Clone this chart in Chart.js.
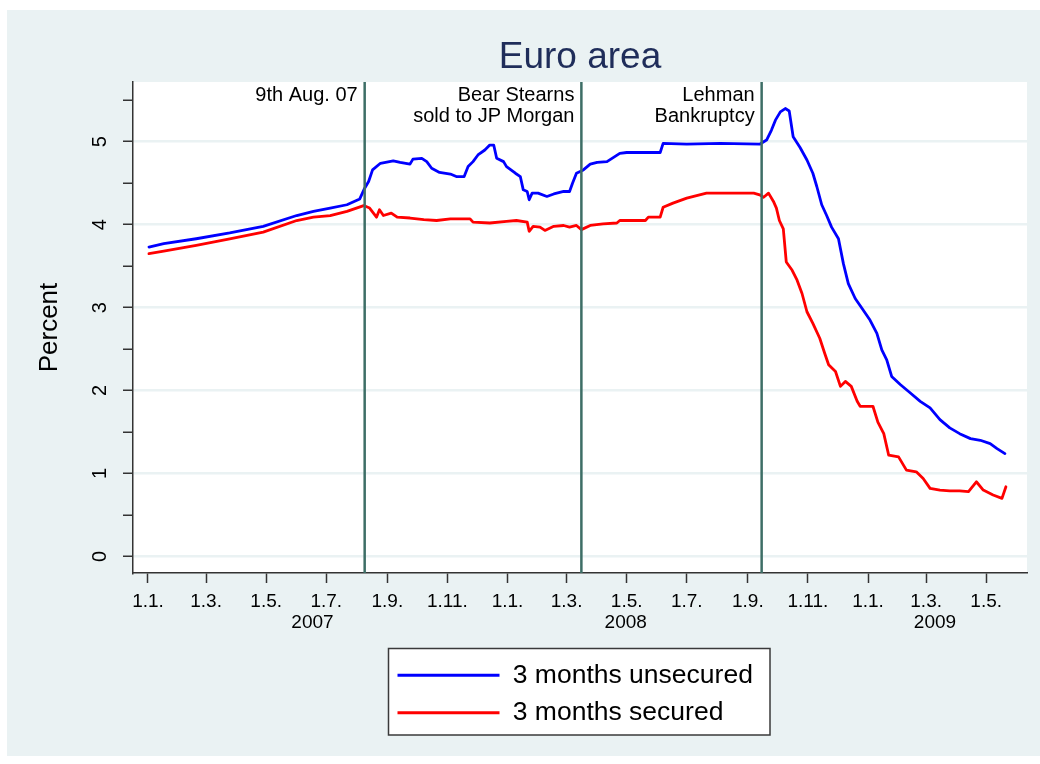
<!DOCTYPE html>
<html>
<head>
<meta charset="utf-8">
<title>Euro area</title>
<script src="https://cdn.jsdelivr.net/npm/chart.js@4.4.1/dist/chart.umd.min.js"></script>
<style>
  html, body { margin: 0; padding: 0; background: #ffffff; }
  canvas { display: block; }
</style>
</head>
<body>
<canvas id="myChart" width="1040" height="764"></canvas>
<script>
// days counted from 1 Jan 2007
const unsecuredDays = [1, 16, 49, 83, 117, 151, 168, 185, 202, 215, 220, 224, 228, 236, 249, 256, 266, 269, 278, 283,
  288, 296, 307, 313, 321, 325, 330, 335, 342, 347, 351, 354, 361, 364, 373, 378, 381, 385, 387, 390,
  396, 405, 412, 422, 428, 431, 435, 442, 449, 456, 466, 479, 486, 500, 520, 523, 547, 581, 621, 628,
  633, 637, 642, 647, 651, 655, 662, 669, 675, 679, 684, 689, 694, 701, 706, 711, 718, 725, 733, 740,
  745, 750, 755, 764, 774, 784, 794, 804, 814, 824, 835, 845, 855, 862, 870]
const unsecuredRates = [3.73, 3.77, 3.83, 3.90, 3.98, 4.11, 4.16, 4.20, 4.24, 4.31, 4.44, 4.52, 4.66, 4.74, 4.77, 4.75, 4.73, 4.79, 4.80, 4.76,
  4.68, 4.63, 4.61, 4.58, 4.58, 4.70, 4.76, 4.84, 4.90, 4.96, 4.96, 4.80, 4.76, 4.70, 4.62, 4.58, 4.42, 4.40, 4.30, 4.38,
  4.38, 4.34, 4.37, 4.40, 4.40, 4.50, 4.62, 4.66, 4.73, 4.75, 4.76, 4.86, 4.87, 4.87, 4.87, 4.98, 4.97, 4.98, 4.97, 5.02,
  5.14, 5.26, 5.36, 5.40, 5.37, 5.06, 4.93, 4.78, 4.62, 4.46, 4.24, 4.11, 3.97, 3.83, 3.53, 3.29, 3.11, 2.99, 2.85, 2.69,
  2.49, 2.37, 2.17, 2.07, 1.97, 1.87, 1.79, 1.65, 1.55, 1.48, 1.42, 1.40, 1.36, 1.30, 1.24]

const securedDays = [1, 16, 49, 83, 117, 151, 168, 185, 202, 219, 225, 232, 235, 239, 247, 253, 266, 280, 293, 307,
  327, 330, 347, 364, 374, 385, 387, 391, 398, 403, 412, 422, 428, 435, 440, 449, 462, 476, 479, 505,
  508, 520, 523, 533, 547, 567, 581, 615, 621, 625, 630, 635, 638, 641, 645, 648, 654, 659, 664, 669,
  675, 682, 687, 691, 698, 703, 708, 714, 720, 723, 736, 741, 747, 752, 762, 770, 780, 787, 794, 804,
  814, 824, 833, 841, 848, 858, 867, 871]
const securedRates = [3.65, 3.68, 3.75, 3.83, 3.91, 4.05, 4.09, 4.11, 4.16, 4.23, 4.20, 4.09, 4.18, 4.11, 4.14, 4.09, 4.08, 4.06, 4.05, 4.07,
  4.07, 4.03, 4.02, 4.04, 4.05, 4.03, 3.92, 3.98, 3.97, 3.93, 3.98, 3.99, 3.97, 3.99, 3.94, 3.99, 4.01, 4.02, 4.05, 4.05,
  4.09, 4.09, 4.21, 4.26, 4.32, 4.38, 4.38, 4.38, 4.36, 4.33, 4.38, 4.28, 4.20, 4.05, 3.95, 3.55, 3.45, 3.33, 3.17, 2.95,
  2.81, 2.63, 2.45, 2.31, 2.23, 2.05, 2.11, 2.05, 1.87, 1.81, 1.81, 1.62, 1.48, 1.22, 1.20, 1.04, 1.02, 0.94, 0.82, 0.80,
  0.79, 0.79, 0.78, 0.90, 0.80, 0.74, 0.70, 0.84]

const seriesNames = ["3 months unsecured", "3 months secured"]

const tickDays = [0, 59, 120, 181, 243, 304, 365, 425, 486, 547, 609, 670, 731, 790, 851]
const tickLabels = ["1.1.", "1.3.", "1.5.", "1.7.", "1.9.", "1.11.", "1.1.", "1.3.", "1.5.", "1.7.", "1.9.", "1.11.", "1.1.", "1.3.", "1.5."]
const yearDays = [167, 485, 799]
const yearLabels = ["2007", "2008", "2009"]
const yTicks = [0, 0.5, 1, 1.5, 2, 2.5, 3, 3.5, 4, 4.5, 5, 5.5]

const eventDays = [220, 440, 623]
const eventLabels = [["9th Aug. 07"], ["Bear Stearns", "sold to JP Morgan"], ["Lehman", "Bankruptcy"]]

const yMin = -0.2
const yMax = 5.72
const xMin = -15.2
const xMax = 892.4

const FONT = "'Liberation Sans', Arial, Helvetica, sans-serif"
const BG = "#EAF2F3"
const EVENT_COLOR = "#3d6e66"

function points(days, vals) {
    return days.map(function (d, i) { return { x: d, y: vals[i] } })
}

let datasets = []
eventDays.forEach(function (d) {
    datasets.push({
        data: [{ x: d, y: yMin }, { x: d, y: yMax }],
        borderColor: EVENT_COLOR,
        borderWidth: 2.5,
        pointRadius: 0,
        order: 0
    })
})
datasets.push({
    label: seriesNames[0],
    data: points(unsecuredDays, unsecuredRates),
    borderColor: "#0000ff",
    borderWidth: 2.8,
    pointRadius: 0,
    order: 1
})
datasets.push({
    label: seriesNames[1],
    data: points(securedDays, securedRates),
    borderColor: "#ff0000",
    borderWidth: 2.8,
    pointRadius: 0,
    order: 2
})

const backgroundPlugin = {
    id: "stataLook",
    afterLayout(chart) {
        let lg = chart.legend
        lg.left = 386.5
        lg.top = 651
        lg.right = 770
        lg.bottom = 764
        lg.width = lg.right - lg.left
        lg.height = lg.bottom - lg.top
    },
    beforeDraw(chart) {
        let ctx = chart.ctx
        let ca = chart.chartArea
        ctx.save()
        ctx.fillStyle = "#ffffff"
        ctx.fillRect(0, 0, chart.width, chart.height)
        ctx.fillStyle = BG
        ctx.fillRect(7, 10, chart.width - 7, chart.height - 18)
        ctx.fillStyle = "#ffffff"
        ctx.fillRect(ca.left, ca.top, ca.right - ca.left, ca.bottom - ca.top)
        // legend frame
        ctx.fillRect(388.5, 648.5, 381.5, 86.5)
        ctx.strokeStyle = "#3a3a3a"
        ctx.lineWidth = 1.5
        ctx.strokeRect(388.5, 648.5, 381.5, 86.5)
        ctx.restore()
    },
    afterDatasetsDraw(chart) {
        let ctx = chart.ctx
        let xs = chart.scales.x
        ctx.save()
        ctx.font = "20px " + FONT
        ctx.fillStyle = "#000000"
        ctx.textAlign = "right"
        ctx.textBaseline = "alphabetic"
        eventDays.forEach(function (d, i) {
            let px = xs.getPixelForValue(d) - 7
            eventLabels[i].forEach(function (line, j) {
                ctx.fillText(line, px, 100.5 + j * 21)
            })
        })
        ctx.restore()
    }
}

new Chart(document.getElementById("myChart").getContext("2d"), {
    type: "line",
    data: { datasets: datasets },
    plugins: [backgroundPlugin],
    options: {
        responsive: false,
        animation: false,
        events: [],
        layout: { padding: { top: 0, left: 0, right: 13, bottom: 125 } },
        elements: { line: { tension: 0, borderJoinStyle: "round", borderCapStyle: "round" } },
        plugins: {
            tooltip: { enabled: false },
            title: {
                display: true,
                text: "Euro area",
                fullSize: false,
                color: "#1f2d5a",
                font: { family: FONT, size: 37, weight: "normal" },
                padding: { top: 35.4, bottom: 2.2 }
            },
            legend: {
                display: true,
                position: "chartArea",
                align: "start",
                labels: {
                    color: "#000000",
                    font: { family: FONT, size: 26.5 },
                    boxWidth: 102,
                    boxHeight: 3,
                    padding: 11,
                    generateLabels: function () {
                        return [
                            { text: seriesNames[0], fillStyle: "#0000ff", strokeStyle: "#0000ff", lineWidth: 0, hidden: false, datasetIndex: 3 },
                            { text: seriesNames[1], fillStyle: "#ff0000", strokeStyle: "#ff0000", lineWidth: 0, hidden: false, datasetIndex: 4 }
                        ]
                    }
                }
            }
        },
        scales: {
            x: {
                type: "linear",
                position: "bottom",
                min: xMin,
                max: xMax,
                weight: 0,
                afterBuildTicks: function (s) { s.ticks = tickDays.map(function (v) { return { value: v } }) },
                afterFit: function (s) { s.height = 36 },
                grid: { drawOnChartArea: false, tickLength: 10, tickColor: "#333333", tickWidth: 1.5 },
                border: { display: true, color: "#333333", width: 1.5 },
                ticks: {
                    autoSkip: false,
                    maxRotation: 0,
                    padding: 7,
                    color: "#000000",
                    font: { family: FONT, size: 19 },
                    callback: function (v) {
                        let k = tickDays.indexOf(v)
                        return k >= 0 ? tickLabels[k] : ""
                    }
                }
            },
            x2: {
                type: "linear",
                position: "bottom",
                min: xMin,
                max: xMax,
                weight: 1,
                afterBuildTicks: function (s) { s.ticks = yearDays.map(function (v) { return { value: v } }) },
                afterFit: function (s) { s.height = 30 },
                grid: { display: false, drawTicks: false },
                border: { display: false },
                ticks: {
                    autoSkip: false,
                    maxRotation: 0,
                    padding: 2,
                    color: "#000000",
                    font: { family: FONT, size: 19 },
                    callback: function (v) {
                        let k = yearDays.indexOf(v)
                        return k >= 0 ? yearLabels[k] : ""
                    }
                }
            },
            y: {
                type: "linear",
                position: "left",
                min: yMin,
                max: yMax,
                afterBuildTicks: function (s) { s.ticks = yTicks.map(function (v) { return { value: v } }) },
                afterFit: function (s) { s.width = 133 },
                grid: {
                    color: function (c) { return (c.tick && Number.isInteger(c.tick.value)) ? BG : "rgba(0,0,0,0)" },
                    lineWidth: 2.5,
                    tickLength: 10,
                    tickColor: "#333333",
                    tickWidth: 1.5
                },
                border: { display: true, color: "#333333", width: 1.5 },
                title: {
                    display: true,
                    text: "Percent",
                    color: "#000000",
                    font: { family: FONT, size: 26 },
                    padding: { top: 34.4, bottom: 0 }
                },
                ticks: {
                    autoSkip: false,
                    minRotation: 90,
                    maxRotation: 90,
                    crossAlign: "center",
                    padding: 16.5,
                    color: "#000000",
                    font: { family: FONT, size: 20 },
                    callback: function (v) { return Number.isInteger(v) ? String(v) : "" }
                }
            }
        }
    }
})
</script>
</body>
</html>
